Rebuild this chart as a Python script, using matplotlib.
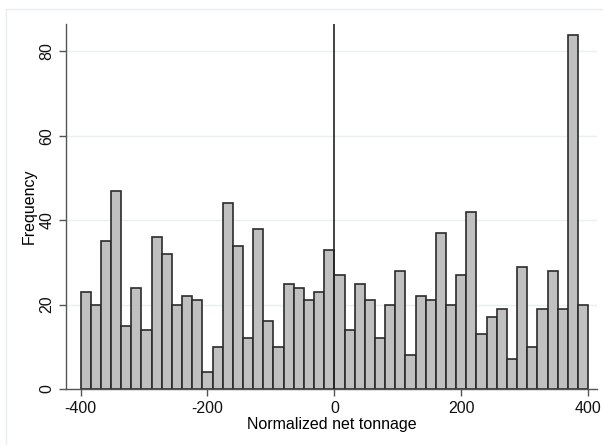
import numpy as np
import matplotlib
matplotlib.use("Agg")
import matplotlib.pyplot as plt
from matplotlib.lines import Line2D

plt.rcParams['font.family'] = ['Liberation Sans', 'DejaVu Sans']
plt.rcParams['axes.unicode_minus'] = False

# histogram bins: 50 bins of width 16 from -400 to 400
bin_edges = np.arange(-400, 401, 16)
counts = [23, 20, 35, 47, 15, 24, 14, 36, 32, 20, 22, 21, 4, 10, 44, 34, 12, 38, 16, 10,
          25, 24, 21, 23, 33, 27, 14, 25, 21, 12, 20, 28, 8, 22, 21, 37, 20, 27, 42, 13,
          17, 19, 7, 29, 10, 19, 28, 19, 84, 20]
xticks = [-400, -200, 0, 200, 400]
yticks = [0, 20, 40, 60, 80]
cutoff = 0

fig = plt.figure(figsize=(6.03, 4.45), dpi=100)
ax = fig.add_axes([66 / 603, 1 - 389 / 445, (597 - 66) / 603, (389 - 24) / 445])

# light frame around the graph region (Stata style)
fig.add_artist(Line2D([6 / 603, 6 / 603], [0, 1 - 9 / 445], transform=fig.transFigure,
                      color='#e6eef0', lw=1))
fig.add_artist(Line2D([6 / 603, 1], [1 - 9 / 445, 1 - 9 / 445], transform=fig.transFigure,
                      color='#e6eef0', lw=1))

ax.bar(bin_edges[:-1], counts, width=np.diff(bin_edges), align='edge',
       color='#c0c0c0', edgecolor='#2b2b2b', linewidth=1.2, zorder=2)
ax.axvline(cutoff, color='#222222', lw=1.2, zorder=3)

ax.set_xlim(-423, 414)
ax.set_ylim(0, 86.5)
ax.set_xticks(xticks)
ax.set_yticks(yticks)
ax.set_yticklabels([str(t) for t in yticks], rotation=90, va='center')
ax.tick_params(axis='both', labelsize=11.5, color='#555555', length=5, width=1, labelcolor='#111111')
ax.yaxis.grid(True, color='#e8f0f2', lw=1, zorder=0)
ax.set_axisbelow(True)

for s in ['top', 'right']:
    ax.spines[s].set_visible(False)
for s in ['left', 'bottom']:
    ax.spines[s].set_color('#555555')
    ax.spines[s].set_linewidth(1)

ax.set_xlabel('Normalized net tonnage', fontsize=11.5, labelpad=1)
ax.set_ylabel('Frequency', fontsize=11.5, labelpad=2)

fig.savefig('out.png', dpi=100)
